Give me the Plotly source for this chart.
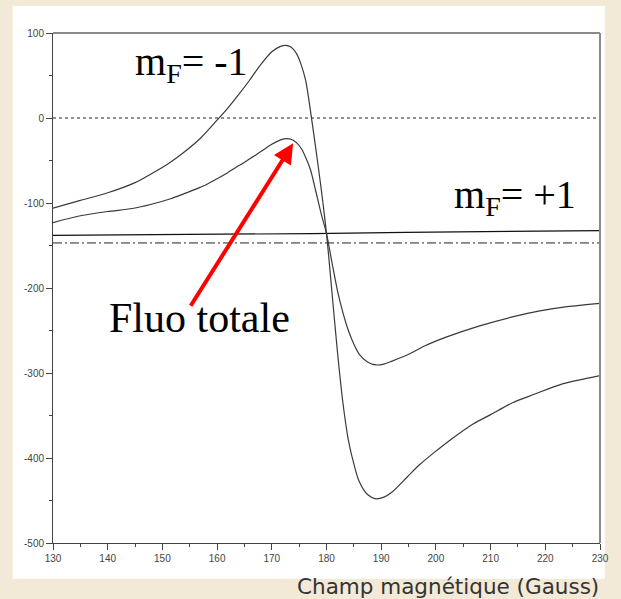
import plotly.graph_objects as go

# ---------------- data ----------------
field_mfm1 = [130, 135, 140, 145, 148, 151, 154, 157, 160, 162, 164, 166, 168, 170, 171.5, 172.5,
              173.5, 174.5, 175.3, 176.2, 177.1, 178, 179, 180, 181, 182, 183, 184, 185, 186,
              187.5, 189, 190.5, 192, 194.8, 197, 199.6, 203, 206.8, 210, 214, 218, 223, 230]
mf_minus1 = [-106, -97, -88, -76, -65.5, -54, -40, -23.5, -2.5, 12, 28, 45, 63, 78, 84, 85.5,
             83.5, 76, 64, 44, 7, -34, -82, -136, -205, -275, -335, -379, -407, -428,
             -443, -448, -446, -440, -422, -408, -394, -377, -360, -349, -335, -325, -313, -303]

field_tot = [130, 135, 140, 144.5, 148, 151.5, 154, 156, 158, 160, 162, 164, 166, 168, 170, 171.5,
             172.5, 173.5, 174.5, 175.5, 176.3, 177.1, 178, 179, 180, 181, 182, 183, 184, 185,
             186, 187.5, 189, 190.5, 192, 195, 198, 202, 208, 214, 219, 224, 230]
fluo_totale = [-123, -115, -110, -106.5, -101.5, -95, -89, -84, -78.5, -71.5, -64, -56, -48, -39.5, -31, -26,
               -24.3, -25, -29, -37, -48, -61.5, -85, -112, -136, -170, -203, -229, -250, -266,
               -278, -287, -290.5, -289.5, -286, -278, -268, -257.5, -244.5, -234, -227, -222, -218]

field_mfp1 = [130, 144, 161.5, 177.4, 194.5, 230]
mf_plus1 = [-138, -137.5, -136.5, -136, -134.5, -132.5]

ref_x = [130, 230]
zero_line = [0, 0]
dashdot_line = [-147, -147]

x_ticks = [130, 140, 150, 160, 170, 180, 190, 200, 210, 220, 230]
y_ticks = [100, 0, -100, -200, -300, -400, -500]
y_tick_text = ["100", "0", "-100", "-200", "-300", "-400", "-500"]

BEIGE = "#F2EAD6"
CURVE = "#3a3a3a"

fig = go.Figure()
fig.add_trace(go.Scatter(x=ref_x, y=zero_line, mode="lines",
                         line=dict(color="#222", width=1, dash="3px,3px"), hoverinfo="skip"))
fig.add_trace(go.Scatter(x=ref_x, y=dashdot_line, mode="lines",
                         line=dict(color="#222", width=1, dash="9px,3px,2px,3px"), hoverinfo="skip"))
fig.add_trace(go.Scatter(x=field_mfp1, y=mf_plus1, mode="lines",
                         line=dict(color="#111", width=1.2)))
fig.add_trace(go.Scatter(x=field_mfm1, y=mf_minus1, mode="lines", line_shape="spline",
                         line=dict(color=CURVE, width=1.2, smoothing=0.8)))
fig.add_trace(go.Scatter(x=field_tot, y=fluo_totale, mode="lines", line_shape="spline",
                         line=dict(color=CURVE, width=1.2, smoothing=0.8)))

# white panel behind the chart
fig.add_shape(type="rect", xref="paper", yref="paper", x0=-0.0737, x1=1.009, y0=-0.07, y1=1.053,
              fillcolor="white", line_width=0, layer="below")
# gray frame top and right
fig.add_shape(type="line", xref="paper", yref="paper", x0=0, x1=1, y0=1, y1=1,
              line=dict(color="#8a8a8a", width=2))
fig.add_shape(type="line", xref="paper", yref="paper", x0=1, x1=1, y0=0, y1=1,
              line=dict(color="#8a8a8a", width=2))

serif = dict(family="Liberation Serif, Times New Roman, serif", size=40, color="black")
fig.add_annotation(x=155.4, y=64, xref="x", yref="y", text="m<sub>F</sub>= -1",
                   showarrow=False, font=serif)
fig.add_annotation(x=214.5, y=-93, xref="x", yref="y", text="m<sub>F</sub>= +1",
                   showarrow=False, font=serif)
fig.add_annotation(x=156.7, y=-235, xref="x", yref="y", text="Fluo totale",
                   showarrow=False, font=dict(family="Liberation Serif, Times New Roman, serif",
                                              size=42, color="black"))
fig.add_annotation(x=173.9, y=-29.8, ax=155.0, ay=-222.7, xref="x", yref="y",
                   axref="x", ayref="y", text="", showarrow=True,
                   arrowcolor="#FF0000", arrowwidth=4, arrowhead=2, arrowsize=1)
fig.add_annotation(x=1.002, y=-0.085, xref="paper", yref="paper", xanchor="right", yanchor="middle",
                   text="Champ magnétique (Gauss)", showarrow=False,
                   font=dict(family="DejaVu Sans, sans-serif", size=21.5, color="#333"))

tickfont = dict(family="Liberation Sans, Arial, sans-serif", size=10, color="#444")
fig.update_xaxes(range=[130, 230], tickvals=x_ticks, ticks="outside", ticklen=6, tickwidth=1,
                 tickcolor="#444", showline=True, linecolor="#444", linewidth=1,
                 showgrid=False, zeroline=False, tickfont=tickfont,
                 minor=dict(dtick=5, tick0=130, ticks="outside", ticklen=3, tickcolor="#444"))
fig.update_yaxes(range=[-500, 100], tickvals=y_ticks, ticktext=y_tick_text, ticks="outside",
                 ticklen=6, tickwidth=1, tickcolor="#444", showline=True, linecolor="#444",
                 linewidth=1, showgrid=False, zeroline=False, tickfont=tickfont,
                 minor=dict(dtick=50, tick0=0, ticks="outside", ticklen=3, tickcolor="#444"))

fig.update_layout(width=621, height=599, autosize=False,
                  margin=dict(l=53, r=12, t=33, b=56),
                  paper_bgcolor=BEIGE, plot_bgcolor="white", showlegend=False)

fig.write_html("out.html", config={"displayModeBar": False},
               post_script="document.body.style.margin='0';document.body.style.overflow='hidden';")
